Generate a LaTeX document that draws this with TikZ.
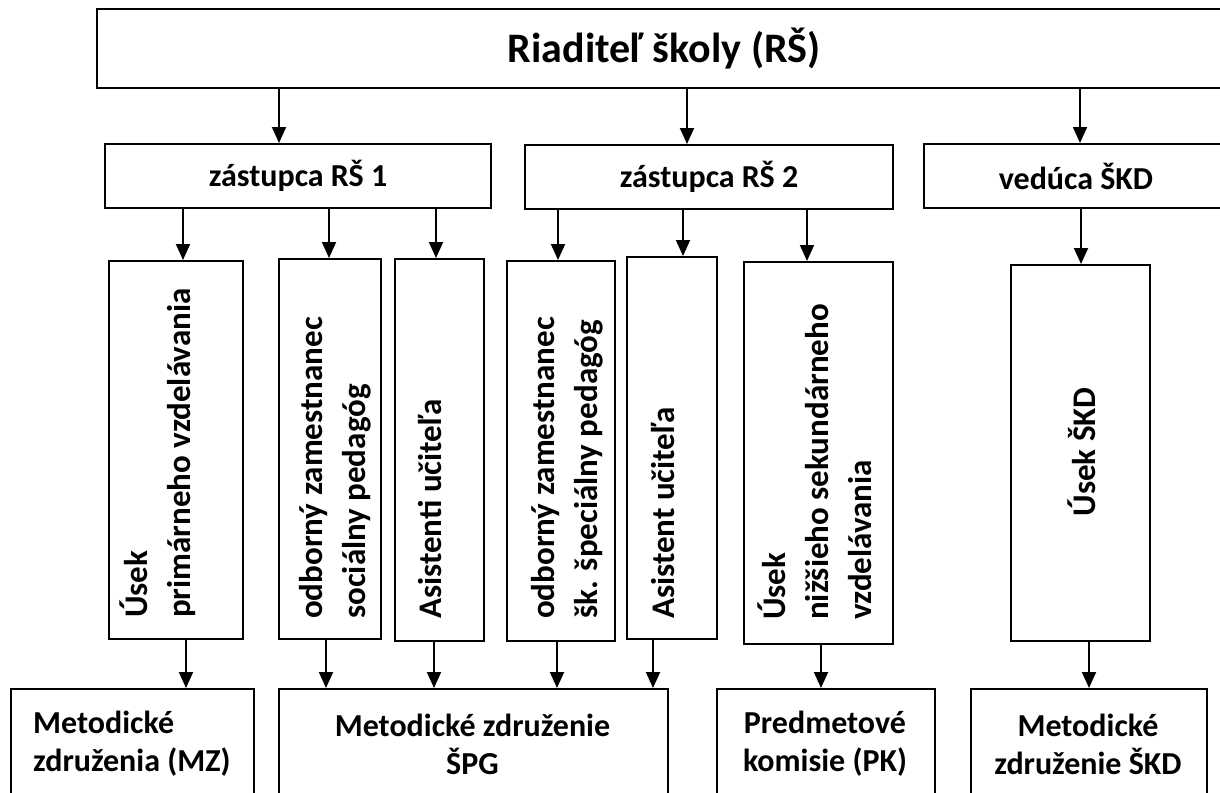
\documentclass[tikz,border=0pt]{standalone}
\usepackage{fontspec}
\setmainfont{Carlito}
\usetikzlibrary{arrows.meta}
\begin{document}
\begin{tikzpicture}[x=1pt,y=-1pt,
  box/.style={draw=black, line width=2pt, fill=white, inner sep=0pt, anchor=north west},
  arr/.style={line width=1.9pt, -{Triangle[length=16pt,width=14pt]}},
  txt/.style={font=\fontsize{32}{43}\selectfont\bfseries, inner sep=0pt},
  vtxtfont/.style={font=\fontsize{33}{43}\selectfont\bfseries, inner sep=0pt},
  btxt/.style={font=\fontsize{32}{38}\selectfont\bfseries, inner sep=0pt},
  vtxt/.style={vtxtfont, rotate=90, anchor=west, align=left},
  ttl/.style={font=\fontsize{42}{50}\selectfont\bfseries}]
\useasboundingbox (0,0) rectangle (1220,792);

% level 1
\node[box, ttl, minimum width=1134pt, minimum height=79pt] (rs) at (96,8) {Riaditeľ školy (RŠ)};

% level 2
\node[box, txt, minimum width=386pt, minimum height=64pt] (z1) at (104,143) {zástupca RŠ 1};
\node[box, txt, minimum width=368pt, minimum height=64pt] (z2) at (524,144) {zástupca RŠ 2};
\node[box, txt, minimum width=304pt, minimum height=64pt] (ved) at (923,143) {vedúca ŠKD};

% level 3 boxes
\node[box, minimum width=134pt, minimum height=378pt] (b1) at (108,260) {};
\node[box, minimum width=102pt, minimum height=380pt] (b2) at (278,258) {};
\node[box, minimum width=89pt, minimum height=382pt] (b3) at (394,258) {};
\node[box, minimum width=108pt, minimum height=380pt] (b4) at (506,260) {};
\node[box, minimum width=90pt, minimum height=382pt] (b5) at (626,256) {};
\node[box, minimum width=149pt, minimum height=382pt] (b6) at (743,261) {};
\node[box, minimum width=139pt, minimum height=376pt] (b7) at (1010,264) {};

% level 3 texts
\node[vtxt] (t1) at (157.5,618) {Úsek\\primárneho vzdelávania};
\node[vtxt] (t2) at (335,619) {odborný zamestnanec\\sociálny pedagóg};
\node[vtxt] (t3) at (430,619) {Asistenti učiteľa};
\node[vtxt] (t4) at (567.5,619) {odborný zamestnanec\\šk. špeciálny pedagóg};
\node[vtxt] (t5) at (663,619) {Asistent učiteľa};
\node[vtxt] (t6) at (815,620) {Úsek\\nižšieho sekundárneho\\vzdelávania};
\node[vtxtfont, rotate=90] (t7) at (1082,452) {Úsek ŠKD};

% level 4 boxes
\node[box, minimum width=243pt, minimum height=120pt] (mz) at (10,688) {};
\node[box, minimum width=389pt, minimum height=120pt] (spg) at (278,688) {};
\node[box, minimum width=218pt, minimum height=120pt] (pk) at (716,688) {};
\node[box, minimum width=236pt, minimum height=120pt] (skd) at (970,688) {};

% level 4 texts
\node[btxt, align=left, anchor=west] (m1) at (33,744) {Metodické\\združenia (MZ)};
\node[btxt, align=center] (m2) at (472.5,744) {Metodické združenie\\ŠPG};
\node[btxt, align=center] (m3) at (825,744) {Predmetové\\komisie (PK)};
\node[btxt, align=center] (m4) at (1088,744) {Metodické\\združenie ŠKD};

% arrow x positions
\coordinate (xa1) at (279,0);
\coordinate (xa2) at (687,0);
\coordinate (xa3) at (1080,0);
\coordinate (xb1) at (183,0);
\coordinate (xb2) at (329,0);
\coordinate (xb3) at (436,0);
\coordinate (xb4) at (558,0);
\coordinate (xb5) at (683,0);
\coordinate (xb6) at (807,0);
\coordinate (xb7) at (1081,0);
\coordinate (xc1) at (186,0);
\coordinate (xc2) at (326,0);
\coordinate (xc3) at (434,0);
\coordinate (xc4) at (557,0);
\coordinate (xc5) at (653,0);
\coordinate (xc6) at (821,0);
\coordinate (xc7) at (1089,0);

% arrows level 1 -> 2
\draw[arr] (rs.south -| xa1) -- (z1.north -| xa1);
\draw[arr] (rs.south -| xa2) -- (z2.north -| xa2);
\draw[arr] (rs.south -| xa3) -- (ved.north -| xa3);

% arrows level 2 -> 3
\draw[arr] (z1.south -| xb1) -- (b1.north -| xb1);
\draw[arr] (z1.south -| xb2) -- (b2.north -| xb2);
\draw[arr] (z1.south -| xb3) -- (b3.north -| xb3);
\draw[arr] (z2.south -| xb4) -- (b4.north -| xb4);
\draw[arr] (z2.south -| xb5) -- (b5.north -| xb5);
\draw[arr] (z2.south -| xb6) -- (b6.north -| xb6);
\draw[arr] (ved.south -| xb7) -- (b7.north -| xb7);

% arrows level 3 -> 4
\draw[arr] (b1.south -| xc1) -- (mz.north -| xc1);
\draw[arr] (b2.south -| xc2) -- (spg.north -| xc2);
\draw[arr] (b3.south -| xc3) -- (spg.north -| xc3);
\draw[arr] (b4.south -| xc4) -- (spg.north -| xc4);
\draw[arr] (b5.south -| xc5) -- (spg.north -| xc5);
\draw[arr] (b6.south -| xc6) -- (pk.north -| xc6);
\draw[arr] (b7.south -| xc7) -- (skd.north -| xc7);
\end{tikzpicture}
\end{document}
